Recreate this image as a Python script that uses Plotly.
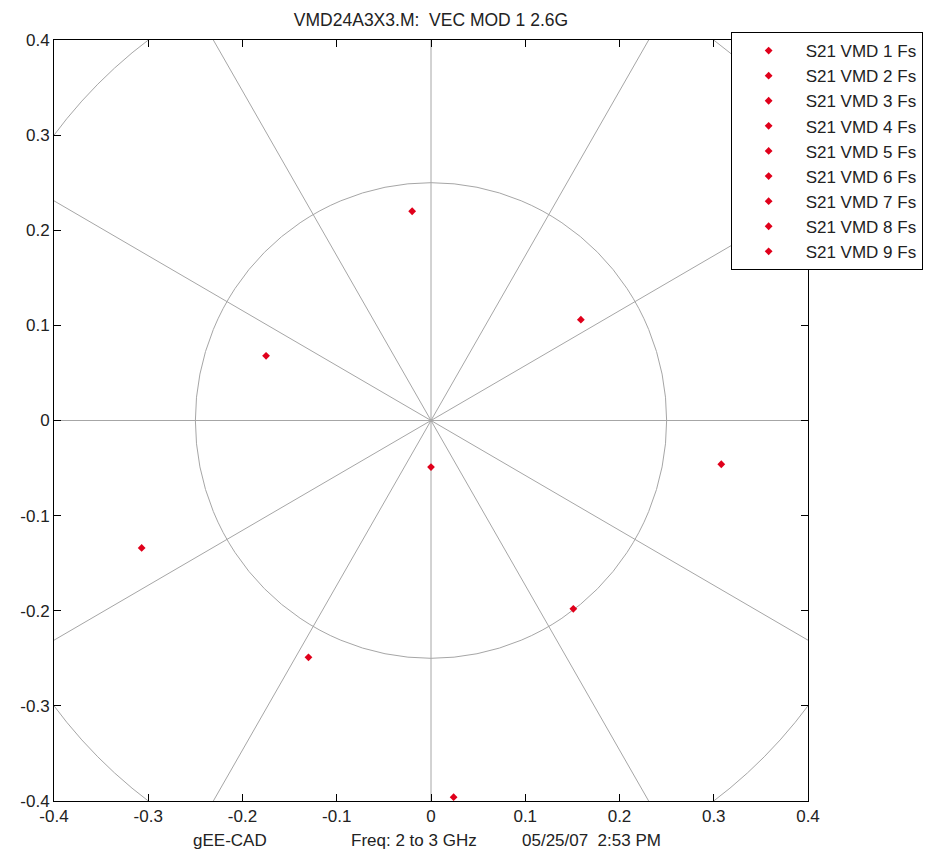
import math
import plotly.graph_objects as go

# ---- data ----
series_names = ["S21 VMD 1 Fs", "S21 VMD 2 Fs", "S21 VMD 3 Fs", "S21 VMD 4 Fs",
                "S21 VMD 5 Fs", "S21 VMD 6 Fs", "S21 VMD 7 Fs", "S21 VMD 8 Fs",
                "S21 VMD 9 Fs"]
x_vals = [0.000, 0.159, 0.308, 0.151, 0.024, -0.130, -0.307, -0.175, -0.020]
y_vals = [-0.049, 0.106, -0.046, -0.198, -0.396, -0.249, -0.134, 0.068, 0.220]

grid_radii = [0.25, 0.5]
grid_angles_deg = [0, 30, 60, 90, 120, 150]
spoke_len = 0.6

tick_vals = [-0.4, -0.3, -0.2, -0.1, 0, 0.1, 0.2, 0.3, 0.4]
tick_text = ["-0.4", "-0.3", "-0.2", "-0.1", "0", "0.1", "0.2", "0.3", "0.4"]

title_text = "VMD24A3X3.M:  VEC MOD 1 2.6G"
footer_texts = ["gEE-CAD", "Freq: 2 to 3 GHz", "05/25/07  2:53 PM"]
footer_x = [0.233, 0.477, 0.713]

# ---- figure ----
FONT = "Liberation Sans, Arial, sans-serif"
GRID = "#a6a6a6"
RED = "#e0001b"
TXT = "#222222"

fig = go.Figure()

shapes = []
for r in grid_radii:
    shapes.append(dict(type="circle", xref="x", yref="y", x0=-r, y0=-r, x1=r, y1=r,
                       line=dict(color=GRID, width=1), layer="below"))
for a in grid_angles_deg:
    c, s = math.cos(math.radians(a)), math.sin(math.radians(a))
    shapes.append(dict(type="line", xref="x", yref="y",
                       x0=-spoke_len * c, y0=-spoke_len * s,
                       x1=spoke_len * c, y1=spoke_len * s,
                       line=dict(color=GRID, width=1), layer="below"))

for name, xv, yv in zip(series_names, x_vals, y_vals):
    fig.add_trace(go.Scatter(x=[xv], y=[yv], mode="markers", name=name,
                             legendgroup=name,
                             marker=dict(symbol="diamond", size=6, color=RED),
                             cliponaxis=False))

axis_common = dict(range=[-0.4, 0.4], tickvals=tick_vals, ticktext=tick_text,
                   showgrid=False, zeroline=False, showline=True, mirror="ticks",
                   linecolor="black", linewidth=1, ticks="inside", ticklen=7,
                   tickcolor="black", tickfont=dict(family=FONT, size=17, color=TXT))

annotations = [dict(text=t, x=xx, y=-0.052, xref="paper", yref="paper",
                    showarrow=False, xanchor="center", yanchor="middle",
                    font=dict(family=FONT, size=17, color=TXT))
               for t, xx in zip(footer_texts, footer_x)]

# page body has an 8px margin: figure is shifted by 8px right and down
fig.update_layout(
    width=930, height=847,
    margin=dict(l=40, r=130, t=32, b=54),
    paper_bgcolor="white", plot_bgcolor="white",
    title=dict(text=title_text, x=0.5, xref="paper", y=1 - 12 / 847, yanchor="middle",
               font=dict(family=FONT, size=17.5, color=TXT)),
    xaxis=dict(**axis_common),
    yaxis=dict(**axis_common),
    shapes=shapes,
    annotations=annotations,
    showlegend=True,
    legend=dict(x=0.8974, y=1.0105, xanchor="left", yanchor="top",
                bgcolor="white", bordercolor="black", borderwidth=1,
                font=dict(family=FONT, size=17, color=TXT),
                traceorder="grouped", tracegroupgap=0, itemwidth=64),
)

fig.write_html("out.html")
